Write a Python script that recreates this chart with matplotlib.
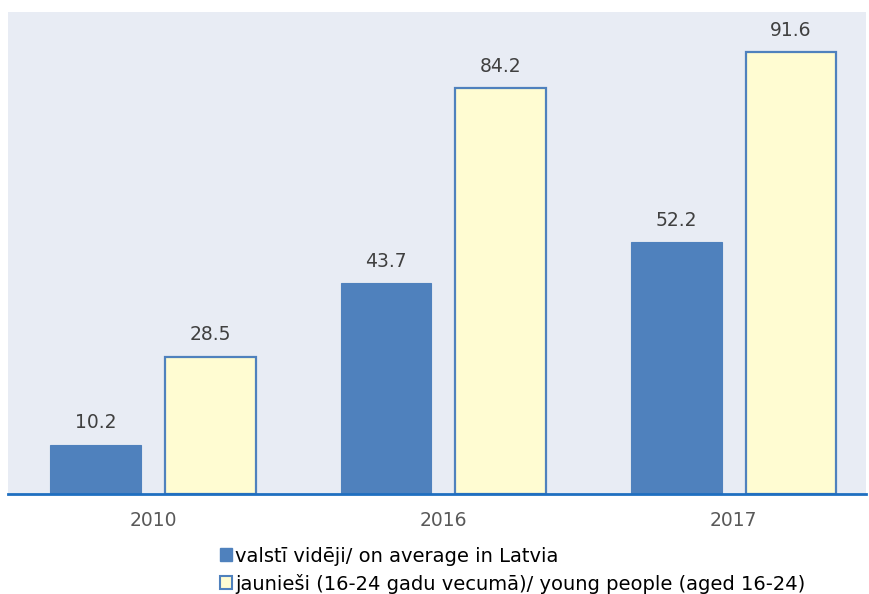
import matplotlib.pyplot as plt
import numpy as np
from matplotlib.patches import Patch

plt.rcParams['font.family'] = ['DejaVu Sans']

years = ["2010", "2016", "2017"]
avg_latvia = [10.2, 43.7, 52.2]
young_people = [28.5, 84.2, 91.6]
series_names = ["valstī vidēji/ on average in Latvia",
                "jaunieši (16-24 gadu vecumā)/ young people (aged 16-24)"]

blue = "#4F81BD"
yellow = "#FFFCD2"
bg = "#E8ECF4"
txt = "#404040"

fig = plt.figure(figsize=(8.69, 5.94), dpi=100)
ax = fig.add_axes([0.0092, 0.1684, 0.9873, 0.8114])
ax.set_facecolor(bg)

x = np.arange(len(years))
w = 0.313
b1 = ax.bar(x - 0.198, avg_latvia, w, color=blue, edgecolor=blue, linewidth=0.8)
b2 = ax.bar(x + 0.197, young_people, w, color=yellow, edgecolor=blue, linewidth=1.6)

for bars, vals in [(b1, avg_latvia), (b2, young_people)]:
    for r, v in zip(bars, vals):
        ax.annotate(f"{v:.1f}", (r.get_x() + r.get_width() / 2, v),
                    xytext=(0, 9), textcoords="offset points",
                    ha="center", va="bottom", fontsize=13.5, color=txt)

ax.set_ylim(0, 100)
ax.set_xlim(-0.5, 2.455)
ax.set_xticks(x)
ax.set_xticklabels(years, fontsize=13.5, color="#595959")
ax.tick_params(axis="x", length=0, pad=12)
ax.set_yticks([])
for s in ["top", "right", "left"]:
    ax.spines[s].set_visible(False)
ax.spines["bottom"].set_color("#1F6FC0")
ax.spines["bottom"].set_linewidth(2)

handles = [Patch(facecolor=blue, edgecolor=blue),
           Patch(facecolor=yellow, edgecolor=blue, linewidth=1.5)]
fig.legend(handles, series_names, loc="upper left",
           bbox_to_anchor=(210 / 869, 1 - 537 / 594), frameon=False,
           fontsize=14, handlelength=0.65, handleheight=0.65,
           handletextpad=0.15, labelspacing=0.4, borderpad=0,
           labelcolor="black")

fig.savefig("out.png", dpi=100)
